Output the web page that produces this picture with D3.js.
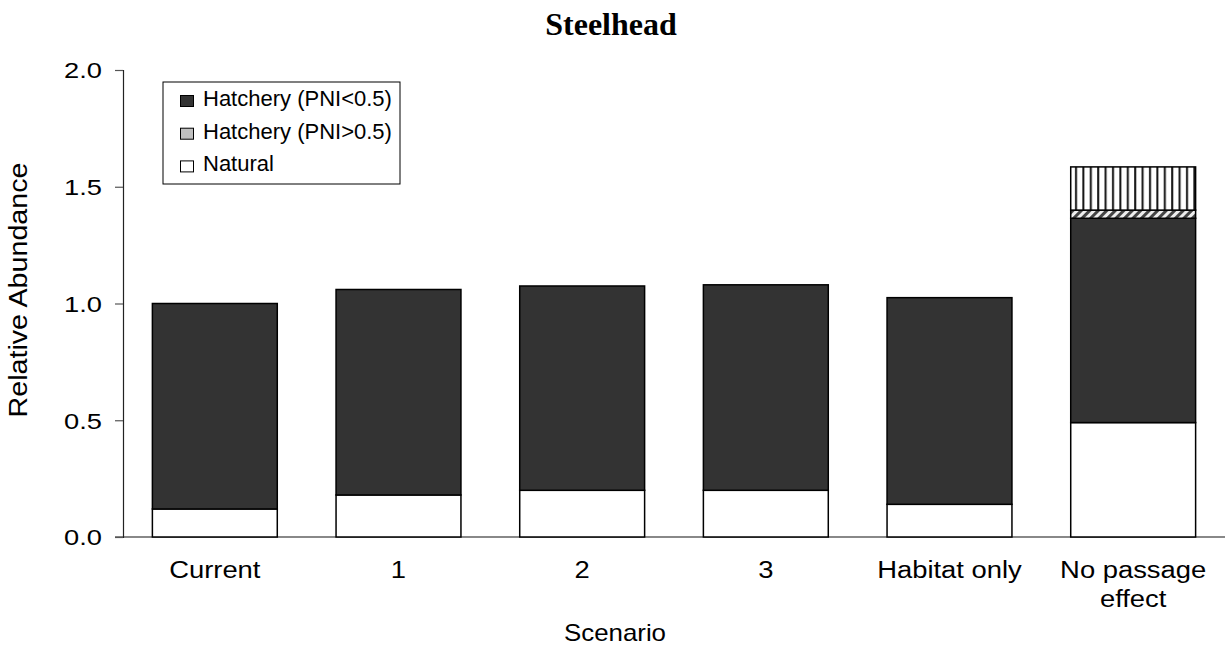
<!DOCTYPE html>
<html>
<head>
<meta charset="utf-8">
<script src="https://cdn.jsdelivr.net/npm/d3@7/dist/d3.min.js"></script>
<style>
  html, body { margin: 0; padding: 0; background: #fff; }
  svg { display: block; }
</style>
</head>
<body>
<svg id="chart" width="1225" height="648"></svg>
<script>
// Scenario categories (x axis)
const scenarios = ["Current", "1", "2", "3", "Habitat only", "No passage effect"];
// Stacked components, bottom to top
const natural       = [0.12, 0.18, 0.20, 0.20, 0.14, 0.49];
const hatcheryLow   = [0.88, 0.88, 0.875, 0.88, 0.885, 0.875]; // PNI<0.5
const hatcheryHigh  = [0, 0, 0, 0, 0, 0.035];                    // PNI>0.5
const passageOther  = [0, 0, 0, 0, 0, 0.185];
const yTicks = [0, 0.5, 1.0, 1.5, 2.0];
const legendLabels = ["Hatchery (PNI<0.5)", "Hatchery (PNI>0.5)", "Natural"];

const SANS = "Liberation Sans, Arial, sans-serif";
const svg = d3.select("#chart");
const margin = { left: 123, right: 0, top: 70, bottom: 111 };
const W = 1225, H = 648;

const x = d3.scaleBand().domain(scenarios)
  .range([margin.left, W - margin.right]).paddingInner(0.32).paddingOuter(0.16);
const y = d3.scaleLinear().domain([0, 2]).range([H - margin.bottom, margin.top]);

// widen a text element horizontally by a factor
function stretch(sel, k) {
  sel.each(function () {
    const w = this.getComputedTextLength();
    d3.select(this).attr("textLength", w * k).attr("lengthAdjust", "spacingAndGlyphs");
  });
}

// patterns
const defs = svg.append("defs");
const vp = defs.append("pattern").attr("id", "vstripe").attr("patternUnits", "userSpaceOnUse")
  .attr("width", 7.4).attr("height", 10);
vp.append("rect").attr("width", 7.4).attr("height", 10).attr("fill", "#fff");
vp.append("rect").attr("x", 2).attr("width", 2).attr("height", 10).attr("fill", "#111");
const dp = defs.append("pattern").attr("id", "diag").attr("patternUnits", "userSpaceOnUse")
  .attr("width", 6).attr("height", 6).attr("patternTransform", "rotate(45)");
dp.append("rect").attr("width", 6).attr("height", 6).attr("fill", "#eee");
dp.append("rect").attr("width", 3).attr("height", 6).attr("fill", "#444");

const series = [
  { key: "natural", values: natural, fill: "#fff" },
  { key: "hatcheryLow", values: hatcheryLow, fill: "#333" },
  { key: "hatcheryHigh", values: hatcheryHigh, fill: "url(#diag)" },
  { key: "other", values: passageOther, fill: "url(#vstripe)" }
];

const table = scenarios.map((s, i) => {
  const row = { scenario: s };
  series.forEach(se => row[se.key] = se.values[i]);
  return row;
});
const stack = d3.stack().keys(series.map(s => s.key))(table);

// x axis line (gray)
svg.append("line").attr("x1", 115).attr("x2", W).attr("y1", y(0)).attr("y2", y(0))
  .attr("stroke", "#888").attr("stroke-width", 2);

// bars
stack.forEach((layer, li) => {
  svg.append("g").selectAll("rect").data(layer.filter(d => d[1] - d[0] > 0)).join("rect")
    .attr("x", d => x(d.data.scenario))
    .attr("width", x.bandwidth())
    .attr("y", d => y(d[1]))
    .attr("height", d => y(d[0]) - y(d[1]))
    .attr("fill", series[li].fill)
    .attr("stroke", "#000").attr("stroke-width", 1.5);
});

// y axis
const yAxis = svg.append("g").attr("transform", `translate(${margin.left},0)`)
  .call(d3.axisLeft(y).tickValues(yTicks).tickFormat(d3.format(".1f")).tickSize(8).tickPadding(13));
yAxis.select(".domain").attr("stroke", "#222").attr("stroke-width", 1.2);
yAxis.selectAll(".tick line").attr("stroke", "#555").attr("stroke-width", 1.2);
yAxis.selectAll(".tick text").attr("font-family", SANS)
  .attr("font-size", 22).attr("fill", "#000").attr("dy", "0.36em")
  .call(stretch, 1.24);

// x category labels
const xl = svg.append("g");
scenarios.forEach(s => {
  const cx = x(s) + x.bandwidth() / 2;
  const lines = s === "No passage effect" ? ["No passage", "effect"] : [s];
  lines.forEach((ln, k) => {
    xl.append("text").attr("x", cx).attr("y", 578 + k * 29)
      .attr("text-anchor", "middle").attr("font-family", SANS)
      .attr("font-size", 23).attr("fill", "#000").text(ln)
      .call(stretch, 1.19);
  });
});

// titles
svg.append("text").attr("x", 611).attr("y", 35).attr("text-anchor", "middle")
  .attr("font-family", "Liberation Serif, Times New Roman, serif").attr("font-weight", "bold")
  .attr("font-size", 32).text("Steelhead");
svg.append("text").attr("x", 615).attr("y", 641).attr("text-anchor", "middle")
  .attr("font-family", SANS).attr("font-size", 24).text("Scenario")
  .attr("textLength", 102).attr("lengthAdjust", "spacingAndGlyphs");
svg.append("text").attr("transform", "translate(27,290) rotate(-90)").attr("text-anchor", "middle")
  .attr("font-family", SANS).attr("font-size", 25)
  .attr("textLength", 255).attr("lengthAdjust", "spacingAndGlyphs").text("Relative Abundance");

// legend
const lg = svg.append("g");
lg.append("rect").attr("x", 163).attr("y", 82).attr("width", 237).attr("height", 102)
  .attr("fill", "#fff").attr("stroke", "#000").attr("stroke-width", 1);
const swatch = ["#333", "#c0c0c0", "#fff"];
legendLabels.forEach((lab, i) => {
  const base = 106 + i * 32.7;
  lg.append("rect").attr("x", 180.5).attr("y", base - 10.5).attr("width", 13).attr("height", 11)
    .attr("fill", swatch[i]).attr("stroke", "#000").attr("stroke-width", 1);
  lg.append("text").attr("x", 203).attr("y", base).attr("font-family", SANS)
    .attr("font-size", 22).text(lab);
});
</script>
</body>
</html>
